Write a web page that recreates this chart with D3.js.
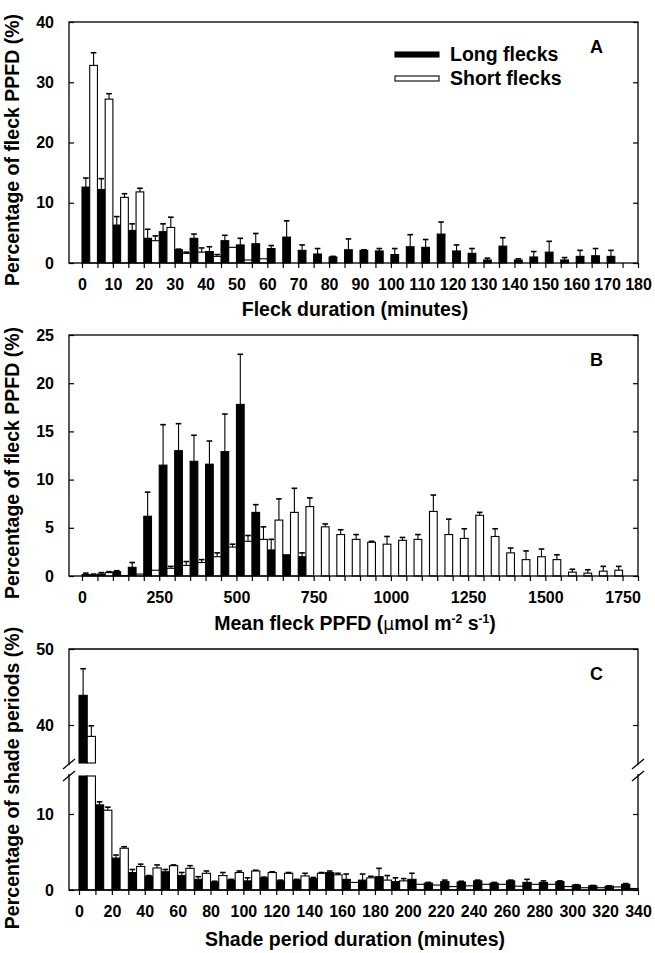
<!DOCTYPE html>
<html>
<head>
<meta charset="utf-8">
<script src="https://cdn.jsdelivr.net/npm/d3@7"></script>
<style>
  body { margin: 0; background: #fff; }
  svg { display: block; font-family: "Liberation Sans", Arial, sans-serif; font-weight: bold; }
</style>
</head>
<body>
<svg id="chart" width="655" height="953"></svg>
<script>
// Panel A: fleck duration, 5-minute bins starting at 0
const binsA = d3.range(0, 175, 5);
const longA = [12.6, 12.2, 6.3, 5.4, 4.1, 5.2, 2.2, 4.1, 1.9, 3.7, 3.0, 3.2, 2.4, 4.3, 2.1, 1.5, 1.0, 2.2,
  2.1, 2.0, 1.4, 2.7, 2.6, 4.8, 2.0, 1.6, 0.5, 2.8, 0.5, 1.0, 1.8, 0.5, 1.1, 1.2, 1.1];
const longAErr = [1.5, 1.8, 1.4, 1.1, 1.5, 1.3, 0.1, 0.7, 0.8, 0.9, 1.1, 1.7, 0.5, 2.7, 0.9, 0.9, 0.1, 1.8,
  0.1, 0.4, 1.0, 2.0, 1.3, 2.0, 1.0, 0.8, 0.3, 1.4, 0.2, 0.9, 1.8, 0.4, 1.0, 1.2, 1.0];
const shortA = [32.8, 27.2, 10.9, 11.8, 3.7, 5.9, 1.6, 1.8, 1.1, 2.6, 0.5, 0.7, 0, 0, 0, 0, 0, 0,
  0, 0, 0, 0, 0, 0, 0, 0, 0, 0, 0, 0, 0, 0, 0, 0, 0];
const shortAErr = [2.1, 0.9, 0.6, 0.6, 0.8, 1.7, 0.2, 0.7, 0.3, 0, 0, 0, 0, 0, 0, 0, 0, 0,
  0, 0, 0, 0, 0, 0, 0, 0, 0, 0, 0, 0, 0, 0, 0, 0, 0];
const ticksA = d3.range(0, 185, 5);
const labelsA = d3.range(0, 190, 10);

// Panel B: mean fleck PPFD, 50 umol bins
const binsB = d3.range(0, 1800, 50);
const longB = [0.15, 0.2, 0.45, 0.9, 6.2, 11.5, 13.0, 11.9, 11.6, 12.9, 17.8, 6.6, 2.7, 2.2, 2.0, 0, 0, 0,
  0, 0, 0, 0, 0, 0, 0, 0, 0, 0, 0, 0, 0, 0, 0, 0, 0, 0];
const longBErr = [0.15, 0.15, 0.1, 0.5, 2.5, 4.2, 2.8, 2.7, 2.4, 3.9, 5.2, 0.8, 1.1, 0, 0.4, 0, 0, 0,
  0, 0, 0, 0, 0, 0, 0, 0, 0, 0, 0, 0, 0, 0, 0, 0, 0, 0];
const shortB = [0.1, 0.35, 0.05, 0.2, 0.6, 0.8, 1.1, 1.4, 2.0, 3.0, 3.6, 3.8, 5.8, 6.6, 7.2, 5.1, 4.3, 3.8,
  3.5, 3.3, 3.7, 3.8, 6.7, 4.3, 3.9, 6.3, 4.1, 2.4, 1.7, 2.0, 1.7, 0.4, 0.3, 0.5, 0.6, 0];
const shortBErr = [0.1, 0.1, 0, 0, 0, 0.2, 0.4, 0.3, 0.4, 0.3, 0.6, 1.3, 2.2, 2.5, 0.9, 0.3, 0.5, 0.5,
  0.1, 0.8, 0.3, 0.5, 1.7, 1.6, 1.0, 0.3, 0.8, 0.5, 0.9, 0.8, 0.5, 0.3, 0.35, 0.5, 0.4, 0];
const ticksB = d3.range(0, 1850, 50);
const labelsB = d3.range(0, 2000, 250);

// Panel C: shade period duration, 10-minute bins
const binsC = d3.range(0, 340, 10);
const longC = [43.9, 11.2, 4.2, 2.3, 1.8, 2.4, 1.9, 1.4, 1.05, 1.3, 1.2, 1.6, 1.2, 1.3, 1.5, 2.3, 1.4,
  1.3, 1.75, 1.1, 1.4, 0.9, 1.1, 1.05, 1.2, 0.9, 1.2, 1.0, 1.0, 1.1, 0.65, 0.55, 0.5, 0.75];
const longCErr = [3.5, 0.4, 0.4, 0.4, 0.1, 0.3, 0.4, 0.35, 0.1, 0.1, 0.4, 0.1, 0.1, 0.1, 0.15, 0.2, 0.7,
  0.8, 1.1, 0.5, 0.8, 0.1, 0.2, 0.1, 0.1, 0.1, 0.1, 0.4, 0.2, 0.1, 0.05, 0.05, 0.05, 0.1];
const shortC = [38.5, 10.5, 5.5, 3.1, 2.9, 3.2, 2.85, 2.2, 1.9, 2.3, 2.5, 2.3, 2.2, 1.85, 2.2, 2.0, 1.0,
  1.6, 1.3, 1.2, 0.75, 0.65, 0.45, 0.55, 0.75, 0.75, 0.5, 0.75, 0.75, 0.45, 0.3, 0.3, 0.4, 0.2];
const shortCErr = [1.4, 0.4, 0.2, 0.3, 0.4, 0.1, 0.35, 0.3, 0.4, 0.2, 0.1, 0.1, 0.1, 0.35, 0.1, 0.2, 0,
  0.2, 0.6, 0.3, 0, 0, 0, 0, 0, 0, 0, 0, 0, 0, 0, 0, 0, 0];
const ticksC = d3.range(0, 350, 10);
const labelsC = d3.range(0, 360, 20);

const frameL = 69, frameR = 638;
const svg = d3.select("#chart");

function drawBars(g, bins, step, vals, errs, x, yFor, isLong) {
  bins.forEach((b, i) => {
    const v = vals[i];
    if (v <= 0) return;
    const x0 = isLong ? x(b) : x(b + step / 2);
    const w = x(b + step / 2) - x(b);
    yFor(v).forEach(seg => {
      g.append("rect")
        .attr("x", x0).attr("y", seg[0])
        .attr("width", w).attr("height", Math.max(seg[1] - seg[0], 0.5))
        .attr("fill", isLong ? "#000" : "#fff")
        .attr("stroke", "#000").attr("stroke-width", 1.1);
    });
    const e = errs[i];
    if (e > 0) {
      const cx = x0 + w / 2;
      const top = yFor.point(v + e), bot = yFor.point(v);
      g.append("line").attr("x1", cx).attr("x2", cx).attr("y1", top).attr("y2", bot)
        .attr("stroke", "#000").attr("stroke-width", 1.1);
      g.append("line").attr("x1", cx - 2.8).attr("x2", cx + 2.8).attr("y1", top).attr("y2", top)
        .attr("stroke", "#000").attr("stroke-width", 1.6);
    }
  });
}

function xAxis(g, x, ticks, labels, bottom) {
  const lab = new Set(labels);
  g.append("g")
    .attr("transform", `translate(0,${bottom})`)
    .call(d3.axisBottom(x).tickValues(ticks).tickSize(5).tickSizeOuter(0).tickPadding(11)
      .tickFormat(d => lab.has(d) ? d : ""))
    .call(a => a.select(".domain").remove())
    .call(a => a.selectAll("line").attr("stroke-width", 1.2))
    .call(a => a.selectAll("text").attr("font-size", 16).attr("font-family", null).attr("font-weight", "bold"));
}

function yAxes(g, y, ticks, labels) {
  g.append("g").attr("transform", `translate(${frameL},0)`)
    .call(d3.axisLeft(y).tickValues(ticks).tickSize(-5).tickSizeOuter(0).tickPadding(15)
      .tickFormat(d => labels ? d : ""))
    .call(a => a.select(".domain").remove())
    .call(a => a.selectAll("line").attr("stroke-width", 1.2))
    .call(a => a.selectAll("text").attr("font-size", 16).attr("font-family", null).attr("font-weight", "bold"));
  g.append("g").attr("transform", `translate(${frameR},0)`)
    .call(d3.axisRight(y).tickValues(ticks).tickSize(-5).tickSizeOuter(0).tickFormat(""))
    .call(a => a.select(".domain").remove())
    .call(a => a.selectAll("line").attr("stroke-width", 1.2));
}

function titles(g, xTitle, yTitle, xTitleY, yMid, letter, top) {
  const xt = g.append("text").attr("x", 355).attr("y", xTitleY)
    .attr("text-anchor", "middle").attr("font-size", 19.5);
  if (typeof xTitle === "string") xt.text(xTitle); else xTitle(xt);
  g.append("text").attr("transform", `translate(19,${yMid}) rotate(-90)`)
    .attr("text-anchor", "middle").attr("font-size", 19.5).text(yTitle);
  g.append("text").attr("x", 603).attr("y", top + 31).attr("text-anchor", "end")
    .attr("font-size", 18).text(letter);
}

function simpleY(y) {
  const f = v => [[y(Math.min(v, y.domain()[1])), y(0)]];
  f.point = v => y(v);
  return f;
}

// ---------- Panel A ----------
{
  const top = 22, bottom = 263;
  const x = d3.scaleLinear().domain([0, 180]).range([82, 638]);
  const y = d3.scaleLinear().domain([0, 40]).range([bottom, top]);
  const g = svg.append("g");
  drawBars(g, binsA, 5, longA, longAErr, x, simpleY(y), true);
  drawBars(g, binsA, 5, shortA, shortAErr, x, simpleY(y), false);
  g.append("rect").attr("x", frameL).attr("y", top).attr("width", frameR - frameL).attr("height", bottom - top)
    .attr("fill", "none").attr("stroke", "#000").attr("stroke-width", 1.3);
  yAxes(g, y, [0, 10, 20, 30, 40], true);
  xAxis(g, x, ticksA, labelsA, bottom);
  titles(g, "Fleck duration (minutes)", "Percentage of fleck PPFD (%)", 316, 150, "A", top);
  // legend
  const leg = [["Long flecks", "#000", 52], ["Short flecks", "#fff", 76]];
  leg.forEach(d => {
    g.append("rect").attr("x", 395).attr("y", d[2]).attr("width", 44).attr("height", 5)
      .attr("fill", d[1]).attr("stroke", "#000").attr("stroke-width", 1.1);
    g.append("text").attr("x", 450).attr("y", d[2] + 9).attr("font-size", 19.5).text(d[0]);
  });
}

// ---------- Panel B ----------
{
  const top = 335, bottom = 576;
  const x = d3.scaleLinear().domain([0, 1800]).range([82, 638]);
  const y = d3.scaleLinear().domain([0, 25]).range([bottom, top]);
  const g = svg.append("g");
  drawBars(g, binsB, 50, longB, longBErr, x, simpleY(y), true);
  drawBars(g, binsB, 50, shortB, shortBErr, x, simpleY(y), false);
  g.append("rect").attr("x", frameL).attr("y", top).attr("width", frameR - frameL).attr("height", bottom - top)
    .attr("fill", "none").attr("stroke", "#000").attr("stroke-width", 1.3);
  yAxes(g, y, [0, 5, 10, 15, 20, 25], true);
  xAxis(g, x, ticksB, labelsB, bottom);
  titles(g, t => {
    t.append("tspan").text("Mean fleck PPFD (");
    t.append("tspan").attr("font-family", "DejaVu Sans").attr("font-weight", "normal").attr("font-size", 17).text("\u03bc");
    t.append("tspan").text("mol m");
    t.append("tspan").attr("dy", -7).attr("font-size", 12).text("-2");
    t.append("tspan").attr("dy", 7).text(" s");
    t.append("tspan").attr("dy", -7).attr("font-size", 12).text("-1");
    t.append("tspan").attr("dy", 7).text(")");
  }, "Percentage of fleck PPFD (%)", 630, 463, "B", top);
}

// ---------- Panel C (broken y axis) ----------
{
  const top = 649, bottom = 890;
  const x = d3.scaleLinear().domain([0, 340]).range([79, 638]);
  const yLow = d3.scaleLinear().domain([0, 15]).range([bottom, 776]);
  const yHigh = d3.scaleLinear().domain([35, 50]).range([763, top]);
  const yFor = v => v <= 15 ? [[yLow(v), yLow(0)]] : [[yHigh(Math.min(v, 50)), yHigh(35)], [yLow(15), yLow(0)]];
  yFor.point = v => v <= 15 ? yLow(v) : yHigh(v);
  const g = svg.append("g");
  drawBars(g, binsC, 10, longC, longCErr, x, yFor, true);
  drawBars(g, binsC, 10, shortC, shortCErr, x, yFor, false);
  const frame = g.append("g").attr("fill", "none").attr("stroke", "#000").attr("stroke-width", 1.3);
  frame.append("path").attr("d",
    `M${frameL},765V${top}H${frameR}V765 M${frameL},774V${bottom}H${frameR}V774`);
  [frameL, frameR].forEach(xx => {
    frame.append("line").attr("x1", xx - 6).attr("y1", 769).attr("x2", xx + 6).attr("y2", 759);
    frame.append("line").attr("x1", xx - 6).attr("y1", 781).attr("x2", xx + 6).attr("y2", 771);
  });
  yAxes(g, yHigh, [50, 40], true);
  yAxes(g, yLow, [0, 10], true);
  xAxis(g, x, ticksC, labelsC, bottom);
  titles(g, "Shade period duration (minutes)", "Percentage of shade periods (%)", 946, 778, "C", top);
}
</script>
</body>
</html>
